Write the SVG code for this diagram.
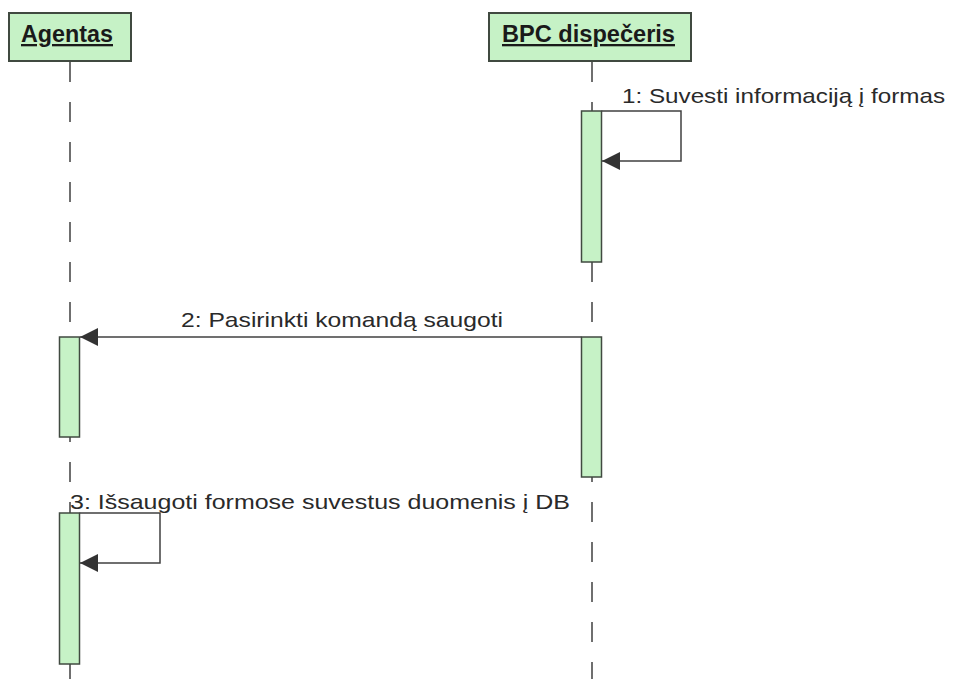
<svg xmlns="http://www.w3.org/2000/svg" width="955" height="679" viewBox="0 0 955 679">
  <style>
    .head { fill: #c6f2c6; stroke: #404a40; stroke-width: 2; }
    .act { fill: #c6f2c6; stroke: #404a40; stroke-width: 1.5; }
    .life { fill: none; stroke: #404040; stroke-width: 1.5; stroke-dasharray: 20 20; }
    .msg { fill: none; stroke: #404040; stroke-width: 1.5; }
    .title { font-family: "Liberation Sans", Arial, sans-serif; font-size: 23px; font-weight: bold; fill: #1a1a1a; text-decoration: underline; }
    .label { font-family: "Liberation Sans", Arial, sans-serif; font-size: 21px; fill: #2a2a2a; }
  </style>
  <defs>
    <marker id="arrow" markerUnits="userSpaceOnUse" markerWidth="18" markerHeight="18" viewBox="0 0 16 16" refX="16" refY="8" orient="auto">
      <path d="M0,0 L16,8 L0,16 Z" fill="#333"/>
    </marker>
  </defs>
  <rect width="955" height="679" fill="#fff"/>

  <!-- lifelines -->
  <g id="lifelines">
    <line class="life" x1="70" y1="62" x2="70" y2="679"/>
    <line class="life" x1="592" y1="62" x2="592" y2="679"/>
  </g>

  <g id="agentas">
    <rect class="head" x="9" y="13" width="122" height="48"/>
    <text class="title" x="21" y="42" textLength="92" lengthAdjust="spacingAndGlyphs">Agentas</text>
  </g>

  <g id="bpc-dispeceris">
    <rect class="head" x="489" y="13" width="202" height="48"/>
    <text class="title" x="502" y="42" textLength="173" lengthAdjust="spacingAndGlyphs">BPC dispečeris</text>
  </g>

  <!-- activation bars -->
  <g id="activations">
    <rect class="act" x="581.5" y="111" width="20" height="151"/>
    <rect class="act" x="581.5" y="337" width="20" height="140"/>
    <rect class="act" x="59.5" y="337" width="20" height="100"/>
    <rect class="act" x="59.5" y="513" width="20" height="151"/>
  </g>

  <!-- messages -->
  <g id="connectors">
    <polyline class="msg" points="601.5,111 681,111 681,161 602,161" marker-end="url(#arrow)"/>
    <line class="msg" x1="581.5" y1="337" x2="80" y2="337" marker-end="url(#arrow)"/>
    <polyline class="msg" points="79.5,513 160,513 160,563 80,563" marker-end="url(#arrow)"/>
  </g>

  <g id="labels">
    <text class="label" x="622" y="103" textLength="323" lengthAdjust="spacingAndGlyphs">1: Suvesti informaciją į formas</text>
    <text class="label" x="181" y="327" textLength="322" lengthAdjust="spacingAndGlyphs">2: Pasirinkti komandą saugoti</text>
    <text class="label" x="70" y="509" textLength="500" lengthAdjust="spacingAndGlyphs">3: Išsaugoti formose suvestus duomenis į DB</text>
  </g>
</svg>
